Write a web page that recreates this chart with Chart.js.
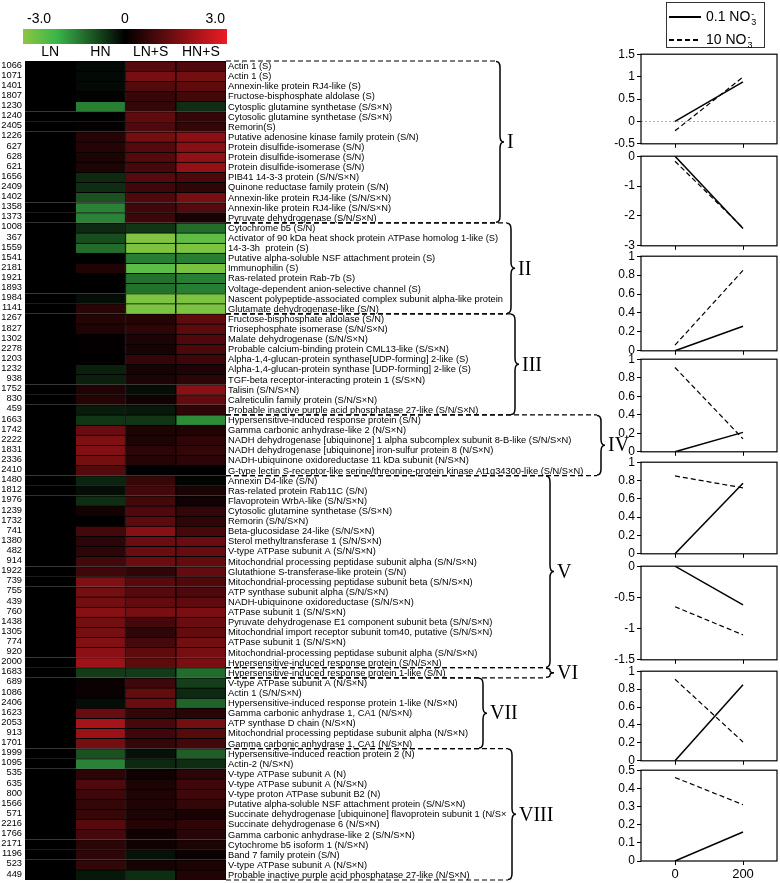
<!DOCTYPE html>
<html>
<head>
<meta charset="utf-8">
<script src="https://cdn.jsdelivr.net/npm/chart.js@4.4.0/dist/chart.umd.min.js"></script>
<style>
  body { margin: 0; background: #fff; width: 780px; height: 883px; position: relative; overflow: hidden;
         font-family: 'Liberation Sans', Arial, sans-serif; }
  canvas { position: absolute; }
  #heat { left: 0; top: 0; z-index: 1; }
  .panel { z-index: 2; }
  #legend { position: absolute; left: 666px; top: 2px; width: 99px; height: 46px; border: 1px solid #333;
            box-sizing: border-box; font-size: 14px; color: #000; z-index: 3; }
  #legend .item { position: absolute; left: 2px; height: 20px; display: flex; align-items: center; white-space: nowrap; }
  #legend svg { margin-right: 5px; }
  .ion { display: inline-flex; flex-direction: column; font-size: 9px; line-height: 8px; vertical-align: middle; margin-left: 1px; }
</style>
</head>
<body>
<canvas id="heat" width="780" height="883"></canvas>
<div id="legend"></div>
<script>
// Heatmap columns and colour scale
const columns = ['LN', 'HN', 'LN+S', 'HN+S'];
const scaleTicks = ['-3.0', '0', '3.0'];

// Protein groups (clusters I - VIII)
const groupNames = ['I', 'II', 'III', 'IV', 'V', 'VI', 'VII', 'VIII'];
const groupSizes = [16, 9, 10, 6, 19, 1, 7, 13];

const rowIds = [
  1066, 1071, 1401, 1807, 1230, 1240, 2405, 1226, 627, 628, 621, 1656, 2409, 1402, 1358, 1373,
  1008, 367, 1559, 1541, 2181, 1921, 1893, 1984, 1141,
  1267, 1827, 1302, 2278, 1203, 1232, 938, 1752, 830, 459,
  1663, 1742, 2222, 1831, 2336, 2410,
  1480, 1812, 1976, 1239, 1732, 741, 1380, 482, 914, 1922, 739, 755, 439, 760, 1438, 1305, 774, 920, 2000,
  1683,
  689, 1086, 2406, 1623, 2053, 913, 1701,
  1999, 1095, 535, 635, 800, 1566, 571, 2216, 1766, 2171, 1196, 523, 449
];

const rowNames = [
  'Actin 1 (S)', 'Actin 1 (S)', 'Annexin-like protein RJ4-like (S)', 'Fructose-bisphosphate aldolase (S)',
  'Cytosplic glutamine synthetase (S/S×N)', 'Cytosolic glutamine synthetase (S/S×N)', 'Remorin(S)',
  'Putative adenosine kinase family protein (S/N)', 'Protein disulfide-isomerase (S/N)',
  'Protein disulfide-isomerase (S/N)', 'Protein disulfide-isomerase (S/N)', 'PIB41 14-3-3 protein (S/N/S×N)',
  'Quinone reductase family protein (S/N)', 'Annexin-like protein RJ4-like (S/N/S×N)',
  'Annexin-like protein RJ4-like (S/N/S×N)', 'Pyruvate dehydrogenase (S/N/S×N)',

  'Cytochrome b5 (S/N)', 'Activator of 90 kDa heat shock protein ATPase homolog 1-like (S)', '14-3-3h  protein (S)',
  'Putative alpha-soluble NSF attachment protein (S)', 'Immunophilin (S)', 'Ras-related protein Rab-7b (S)',
  'Voltage-dependent anion-selective channel (S)',
  'Nascent polypeptide-associated complex subunit alpha-like protein (S)', 'Glutamate dehydrogenase-like (S/N)',

  'Fructose-bisphosphate aldolase (S/N)', 'Triosephosphate isomerase (S/N/S×N)', 'Malate dehydrogenase (S/N/S×N)',
  'Probable calcium-binding protein CML13-like (S/S×N)', 'Alpha-1,4-glucan-protein synthase[UDP-forming] 2-like (S)',
  'Alpha-1,4-glucan-protein synthase [UDP-forming] 2-like (S)', 'TGF-beta receptor-interacting protein 1 (S/S×N)',
  'Talisin (S/N/S×N)', 'Calreticulin family protein (S/N/S×N)',
  'Probable inactive purple acid phosphatase 27-like (S/N/S×N)',

  'Hypersensitive-induced response protein (S/N)', 'Gamma carbonic anhydrase-like 2 (N/S×N)',
  'NADH dehydrogenase [ubiquinone] 1 alpha subcomplex subunit 8-B-like (S/N/S×N)',
  'NADH dehydrogenase [ubiquinone] iron-sulfur protein 8 (N/S×N)',
  'NADH-ubiquinone oxidoreductase 11 kDa subunit (N/S×N)',
  'G-type lectin S-receptor-like serine/threonine-protein kinase At1g34300-like (S/N/S×N)',

  'Annexin D4-like (S/N)', 'Ras-related protein Rab11C (S/N)', 'Flavoprotein WrbA-like (S/N/S×N)',
  'Cytosolic glutamine synthetase (S/S×N)', 'Remorin (S/N/S×N)', 'Beta-glucosidase 24-like (S/N/S×N)',
  'Sterol methyltransferase 1 (S/N/S×N)', 'V-type ATPase subunit A (S/N/S×N)',
  'Mitochondrial processing peptidase subunit alpha (S/N/S×N)', 'Glutathione S-transferase-like protein (S/N)',
  'Mitochondrial-processing peptidase subunit beta (S/N/S×N)', 'ATP synthase subunit alpha (S/N/S×N)',
  'NADH-ubiquinone oxidoreductase (S/N/S×N)', 'ATPase subunit 1 (S/N/S×N)',
  'Pyruvate dehydrogenase E1 component subunit beta (S/N/S×N)',
  'Mitochondrial import receptor subunit tom40, putative (S/N/S×N)', 'ATPase subunit 1 (S/N/S×N)',
  'Mitochondrial-processing peptidase subunit alpha (S/N/S×N)', 'Hypersensitive-induced response protein (S/N/S×N)',

  'Hypersensitive-induced response protein 1-like (S/N)',

  'V-type ATPase subunit A (N/S×N)', 'Actin 1 (S/N/S×N)', 'Hypersensitive-induced response protein 1-like (N/S×N)',
  'Gamma carbonic anhydrase 1, CA1 (N/S×N)', 'ATP synthase D chain (N/S×N)',
  'Mitochondrial processing peptidase subunit alpha (N/S×N)', 'Gamma carbonic anhydrase 1, CA1 (N/S×N)',

  'Hypersensitive-induced reaction protein 2 (N)', 'Actin-2 (N/S×N)', 'V-type ATPase subunit A (N)',
  'V-type ATPase subunit A (N/S×N)', 'V-type proton ATPase subunit B2 (N)',
  'Putative alpha-soluble NSF attachment protein (S/N/S×N)',
  'Succinate dehydrogenase [ubiquinone] flavoprotein subunit 1 (N/S×N)', 'Succinate dehydrogenase 6 (N/S×N)',
  'Gamma carbonic anhydrase-like 2 (S/N/S×N)', 'Cytochrome b5 isoform 1 (N/S×N)', 'Band 7 family protein (S/N)',
  'V-type ATPase subunit A (N/S×N)', 'Probable inactive purple acid phosphatase 27-like (N/S×N)'
];

// log2 fold values per column (LN is the reference)
const lnValues = [
  0, 0, 0, 0, 0, 0, 0, 0, 0, 0, 0, 0, 0, 0, 0, 0,
  0, 0, 0, 0, 0, 0, 0, 0, 0,
  0, 0, 0, 0, 0, 0, 0, 0, 0, 0,
  0, 0, 0, 0, 0, 0,
  0, 0, 0, 0, 0, 0, 0, 0, 0, 0, 0, 0, 0, 0, 0, 0, 0, 0, 0,
  0,
  0, 0, 0, 0, 0, 0, 0,
  0, 0, 0, 0, 0, 0, 0, 0, 0, 0, 0, 0, 0
];
const hnValues = [
  -0.1, -0.1, -0.1, -0.02, -1.4, 0, 0.05, 0.45, 0.45, 0.35, 0.35, -0.45, -0.5, -0.9, -1.45, -1.45,
  -0.45, -0.85, -1.2, 0, 0.4, 0, 0, -0.15, 0.5,
  0.45, 0.4, 0.05, 0.05, 0, -0.35, -0.35, 0.4, 0.45, -0.3,
  -0.6, 1.3, 1.6, 1.65, 1.45, 1.05,
  -0.4, -0.15, -0.5, 0.25, 0, 0.85, 0.55, 0.6, 0.85, 0.8, 1.6, 1.45, 1.45, 1.7, 1.45, 1.5, 1.65, 1.75, 2.0,
  -0.65,
  0.15, 0.15, -0.15, 1.3, 2.1, 1.95, 1.45,
  -0.9, -1.45, 0.55, 1.0, 0.8, 0.65, 0.7, 1.1, 0.9, 0.55, 0.6, 0.65, -0.25
];
const lnsValues = [
  1.1, 1.5, 1.05, 0.7, 0.65, 1.2, 1.0, 1.45, 1.05, 1.05, 0.9, 1.1, 0.8, 1.0, 0.8, 0.75,
  -0.6, -2.85, -2.8, -1.4, -2.4, -1.25, -1.25, -2.8, -2.8,
  0.45, 0.6, 0.35, 0.3, 0.65, 0.3, 0.35, -0.15, 0.2, -0.25,
  -0.6, 0.35, 0.35, 0.55, 0.45, 0,
  0.7, 0.85, 0.85, 1.0, 1.15, 1.7, 1.35, 1.35, 1.35, 0.6, 1.1, 1.1, 1.25, 1.5, 0.9, 0.6, 0.9, 1.2, 1.2,
  -0.65,
  0.8, 1.25, 1.35, 0.65, 0.9, 0.8, 0.65,
  -0.2, -0.45, 0.2, 0.35, 0.4, 0.4, 0.35, 0.45, 0.2, 0.2, -0.2, 0.3, -0.5
];
const hnsValues = [
  1.0, 1.45, 1.2, 0.85, -0.5, 0.65, 0.65, 1.75, 1.7, 1.8, 1.85, 0.95, 0.6, 1.5, 1.05, 0.3,
  -1.2, -2.45, -2.8, -1.4, -2.75, -1.4, -1.4, -2.8, -2.8,
  1.2, 1.15, 1.0, 0.95, 0.8, 0.4, 0.55, 1.75, 1.25, 0.6,
  -1.55, 0.4, 0.6, 0.65, 0.55, 0,
  -0.05, 0.35, 0.2, 0.65, 0.6, 0.9, 1.35, 1.3, 1.25, 1.25, 1.0, 1.0, 1.2, 1.55, 1.35, 1.25, 1.45, 1.5, 1.55,
  -1.2,
  -0.7, -0.45, -1.1, 0.5, 1.45, 1.1, 0.85,
  -1.05, -0.5, 0.55, 0.8, 0.8, 0.65, 0.3, 0.6, 0.5, 0.35, 0.15, 0.35, 0.4
];
const columnValues = [lnValues, hnValues, lnsValues, hnsValues];

// Line panels on the right (expression trend, 0 -> 200)
const timePoints = [0, 200];
const legendLabels = ['0.1 NO3-', '10 NO3-'];
const lowNitrate = [[0, 0.88], [0, -2.42], [0, 0.26], [0, 0.21], [0, 0.77], [0, -0.62], [0, 0.85], [0, 0.16]];
const highNitrate = [[-0.21, 0.99], [-0.17, -2.4], [0.06, 0.85], [0.91, 0.14], [0.85, 0.72], [-0.65, -1.1], [0.91, 0.21], [0.46, 0.31]];
const panelMin = [-0.5, -3, 0, 0, 0, -1.5, 0, 0];
const panelMax = [1.5, 0, 1, 1, 1, 0, 1, 0.5];
const panelStep = [0.5, 1, 0.2, 0.2, 0.2, 0.5, 0.2, 0.1];

// layout (pixels)
const panelTop = [53, 155, 255, 358, 461, 565, 670, 769];
const panelBottom = [147, 249, 354, 455, 557, 663, 764, 861];
const braceX = [496, 507, 511, 597, 546, 546, 479, 508];

Chart.defaults.font.family = "'Liberation Sans', Arial, sans-serif";
Chart.defaults.color = '#000';

const colourStops = [[-3, [141, 198, 63]], [-2, [57, 181, 74]], [0, [0, 0, 0]], [3, [237, 28, 36]]];
const nameFont = "9.3px 'Liberation Sans', Arial, sans-serif";

function valueColour(v) {
  v = Math.max(-3, Math.min(3, v));
  for (let k = 0; k < colourStops.length - 1; k++) {
    const [a, ca] = colourStops[k], [b, cb] = colourStops[k + 1];
    if (v <= b) {
      const t = (v - a) / (b - a);
      const c = ca.map((x, n) => Math.round(x + (cb[n] - x) * t));
      return 'rgb(' + c.join(',') + ')';
    }
  }
  return 'rgb(237,28,36)';
}

function drawBrace(ctx, x, y1, y2, w) {
  const ym = (y1 + y2) / 2;
  const r = Math.min(6, (y2 - y1) / 4);
  const xm = x + w / 2;
  ctx.beginPath();
  ctx.moveTo(x, y1);
  ctx.quadraticCurveTo(xm, y1, xm, y1 + r);
  ctx.lineTo(xm, ym - r);
  ctx.quadraticCurveTo(xm, ym, x + w, ym);
  ctx.quadraticCurveTo(xm, ym, xm, ym + r);
  ctx.lineTo(xm, y2 - r);
  ctx.quadraticCurveTo(xm, y2, x, y2);
  ctx.stroke();
}

const heatmapDecor = {
  id: 'heatmapDecor',
  afterDraw(chart) {
    const ctx = chart.ctx;
    const xs = chart.scales.x, ys = chart.scales.y;
    const area = chart.chartArea;
    const rowH = (area.bottom - area.top) / rowIds.length;
    ctx.save();

    // colour bar
    const barL = 23, barR = 227;
    const grad = ctx.createLinearGradient(barL, 0, barR, 0);
    colourStops.forEach(s => grad.addColorStop((s[0] + 3) / 6, 'rgb(' + s[1].join(',') + ')'));
    ctx.fillStyle = grad;
    ctx.fillRect(barL, 29, barR - barL, 15);
    ctx.fillStyle = '#000';
    ctx.font = "14px 'Liberation Sans', Arial, sans-serif";
    ctx.textBaseline = 'middle';
    ctx.textAlign = 'left';
    ctx.fillText(scaleTicks[0], barL + 4, 19);
    ctx.textAlign = 'center';
    ctx.fillText(scaleTicks[1], (barL + barR) / 2, 19);
    ctx.textAlign = 'right';
    ctx.fillText(scaleTicks[2], barR - 2, 19);

    // column headers
    ctx.textAlign = 'center';
    columns.forEach((c, j) => ctx.fillText(c, xs.getPixelForValue(j + 0.5), 52));

    // row ids
    ctx.font = "9.3px 'Liberation Sans', Arial, sans-serif";
    ctx.textAlign = 'right';
    rowIds.forEach((id, i) => ctx.fillText(String(id), area.left - 3, ys.getPixelForValue(i) - 1));

    // names, dashed separators, braces
    let start = 0;
    groupSizes.forEach((n, g) => {
      const yTop = ys.getPixelForValue(start) - rowH / 2;
      const yBot = ys.getPixelForValue(start + n - 1) + rowH / 2;
      const bx = braceX[g];

      ctx.save();
      ctx.beginPath();
      ctx.rect(area.right, yTop - 2, bx - area.right - 1, yBot - yTop + 4);
      ctx.clip();
      ctx.font = nameFont;
      ctx.textAlign = 'left';
      ctx.fillStyle = '#000';
      for (let i = start; i < start + n; i++) {
        ctx.fillText(rowNames[i], area.right + 2, ys.getPixelForValue(i) + 0.5);
      }
      ctx.restore();

      ctx.strokeStyle = '#000';
      ctx.lineWidth = 1.2;
      ctx.setLineDash([5, 3]);
      [yTop, yBot].forEach(y => {
        ctx.beginPath();
        ctx.moveTo(area.right, y);
        ctx.lineTo(bx, y);
        ctx.stroke();
      });
      ctx.setLineDash([]);
      ctx.lineWidth = 1.5;
      drawBrace(ctx, bx, yTop + 0.5, yBot - 0.5, 8);

      ctx.font = "20px 'Liberation Serif', 'Times New Roman', serif";
      ctx.textAlign = 'left';
      ctx.fillText(groupNames[g], bx + 11, (yTop + yBot) / 2 + 1);
      start += n;
    });
    ctx.restore();
  }
};

new Chart(document.getElementById('heat'), {
  type: 'bar',
  data: {
    labels: rowIds.map(String),
    datasets: columns.map((c, j) => ({
      label: c,
      data: rowIds.map(() => 1),
      backgroundColor: columnValues[j].map(valueColour),
      borderColor: '#000',
      borderWidth: { top: 1, bottom: 0, left: 1, right: 1 },
      borderSkipped: false,
      barPercentage: 1,
      categoryPercentage: 1
    }))
  },
  options: {
    indexAxis: 'y',
    responsive: false,
    animation: false,
    layout: { padding: { left: 25, right: 554, top: 61, bottom: 3 } },
    plugins: { legend: { display: false }, tooltip: { enabled: false } },
    scales: {
      x: { stacked: true, min: 0, max: 4, display: false },
      y: { stacked: true, display: false }
    }
  },
  plugins: [heatmapDecor]
});

const framePlugin = {
  id: 'frame',
  beforeDatasetsDraw(chart, args, opts) {
    if (!opts.zeroLine) return;
    const { ctx, chartArea: a } = chart;
    const y = chart.scales.y.getPixelForValue(0);
    ctx.save();
    ctx.strokeStyle = '#999';
    ctx.lineWidth = 0.8;
    ctx.setLineDash([2, 2]);
    ctx.beginPath();
    ctx.moveTo(a.left, y);
    ctx.lineTo(a.right, y);
    ctx.stroke();
    ctx.restore();
  },
  afterDraw(chart) {
    const { ctx, chartArea: a } = chart;
    ctx.save();
    ctx.strokeStyle = '#000';
    ctx.lineWidth = 1.2;
    ctx.strokeRect(a.left, a.top, a.right - a.left, a.bottom - a.top);
    ctx.restore();
  }
};

panelTop.forEach((top, i) => {
  const last = i === panelTop.length - 1;
  const padTop = 8;
  const xAxisH = last ? 24 : 6;
  const canvas = document.createElement('canvas');
  canvas.className = 'panel';
  canvas.width = 190;
  canvas.height = panelBottom[i] - top + padTop + xAxisH;
  canvas.style.left = '590px';
  canvas.style.top = (top - padTop) + 'px';
  document.body.appendChild(canvas);

  new Chart(canvas, {
    type: 'line',
    data: {
      datasets: [
        {
          label: legendLabels[0],
          data: timePoints.map((t, k) => ({ x: t, y: lowNitrate[i][k] })),
          borderColor: '#000', borderWidth: 1.5, pointRadius: 0
        },
        {
          label: legendLabels[1],
          data: timePoints.map((t, k) => ({ x: t, y: highNitrate[i][k] })),
          borderColor: '#000', borderWidth: 1.2, borderDash: [5, 3], pointRadius: 0
        }
      ]
    },
    options: {
      responsive: false,
      animation: false,
      layout: { padding: { top: padTop, right: 3, left: 0, bottom: 0 } },
      plugins: { legend: { display: false }, tooltip: { enabled: false }, frame: { zeroLine: i === 0 } },
      scales: {
        x: {
          type: 'linear', min: -100, max: 300,
          afterBuildTicks: s => { s.ticks = timePoints.map(v => ({ value: v })); },
          afterFit: s => { s.height = xAxisH; },
          grid: { drawOnChartArea: false, tickLength: 4, color: '#000' },
          border: { display: false },
          ticks: { display: last, font: { size: 13 }, padding: 2, maxRotation: 0 }
        },
        y: {
          min: panelMin[i], max: panelMax[i],
          afterFit: s => { s.width = 51; },
          grid: { drawOnChartArea: false, tickLength: 4, color: '#000' },
          border: { display: false },
          ticks: { stepSize: panelStep[i], font: { size: 12 }, padding: 2,
                   callback: v => Number(v.toFixed(2)).toString() }
        }
      }
    },
    plugins: [framePlugin]
  });
});

// legend box
const legend = document.getElementById('legend');
legendLabels.forEach((lab, k) => {
  const item = document.createElement('div');
  item.className = 'item';
  item.style.top = (k === 0 ? 4 : 27) + 'px';
  const dash = k === 0 ? '' : ' stroke-dasharray="5,3"';
  const parts = lab.split(' ');
  item.innerHTML = '<svg width="32" height="4"><line x1="0" y1="2" x2="32" y2="2" stroke="#000" stroke-width="2"' + dash + '/></svg>' +
    '<span>' + parts[0] + ' NO<span class="ion"><span>-</span><span>3</span></span></span>';
  legend.appendChild(item);
});
</script>
</body>
</html>
